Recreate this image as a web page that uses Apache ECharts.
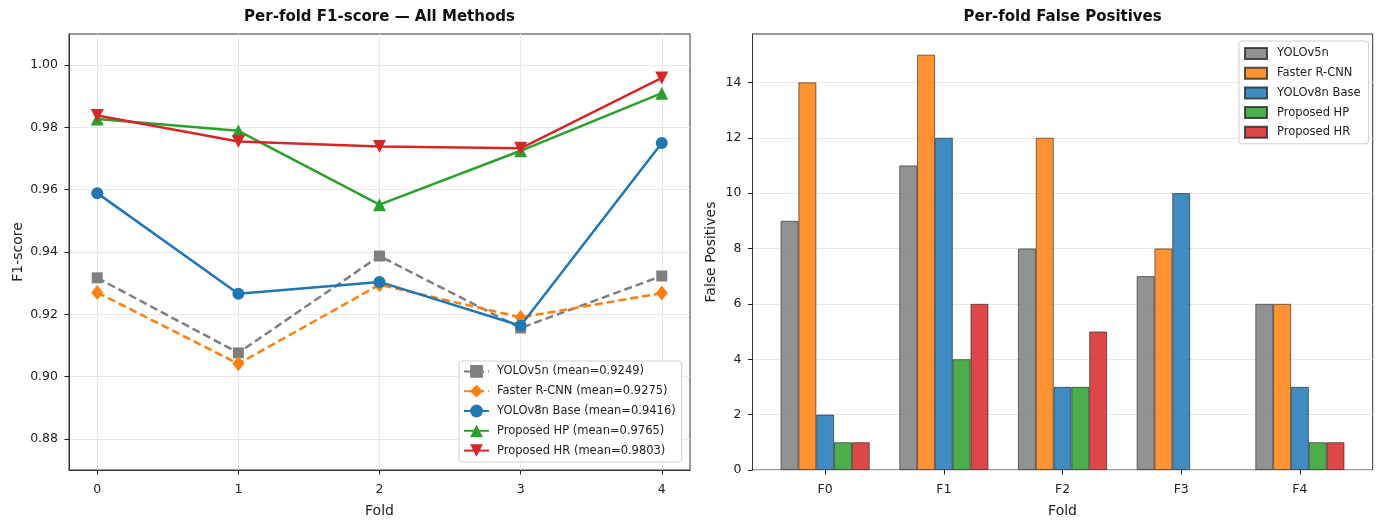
<!DOCTYPE html>
<html><head><meta charset="utf-8">
<script src="https://cdn.jsdelivr.net/npm/echarts@6/dist/echarts.min.js"></script>
<style>html,body{margin:0;padding:0;background:#fff}#c{width:1381px;height:522px}</style>
</head><body><div id="c"></div>
<script>
// ---- data ----
const folds = [0, 1, 2, 3, 4];
const foldLabels = ['F0', 'F1', 'F2', 'F3', 'F4'];
const methods = ['YOLOv5n', 'Faster R-CNN', 'YOLOv8n Base', 'Proposed HP', 'Proposed HR'];
const meanLabels = ['0.9249', '0.9275', '0.9416', '0.9765', '0.9803'];

const f1YOLOv5n    = [0.9317, 0.9076, 0.9387, 0.9156, 0.9323];
const f1FasterRCNN = [0.9270, 0.9041, 0.9295, 0.9190, 0.9268];
const f1YOLOv8n    = [0.9589, 0.9266, 0.9304, 0.9163, 0.9750];
const f1ProposedHP = [0.9827, 0.9789, 0.9552, 0.9725, 0.9910];
const f1ProposedHR = [0.9838, 0.9755, 0.9739, 0.9733, 0.9959];

const fpYOLOv5n    = [9, 11, 8, 7, 6];
const fpFasterRCNN = [14, 15, 12, 8, 6];
const fpYOLOv8n    = [2, 12, 3, 10, 3];
const fpProposedHP = [1, 4, 3, 0, 1];
const fpProposedHR = [1, 6, 5, 0, 1];

const f1Ticks = [0.88, 0.90, 0.92, 0.94, 0.96, 0.98, 1.00];
const fpTicks = [0, 2, 4, 6, 8, 10, 12, 14];

// ---- styling ----
const FONT = 'DejaVu Sans';
const lineColors = ['#7f7f7f', '#ff7f0e', '#1f77b4', '#2ca02c', '#d62728'];
const barColors = ['rgba(127,127,127,0.85)', 'rgba(255,127,14,0.85)', 'rgba(31,119,180,0.85)', 'rgba(44,160,44,0.85)', 'rgba(214,39,40,0.85)'];
const symbols = ['rect', 'diamond', 'circle', 'triangle', 'triangle'];
const symbolSizes = [11, [12, 15], 12, 13, 13];
const symbolRot = [0, 0, 0, 0, 180];
const dashed = [true, true, false, false, false];
const f1Sets = [f1YOLOv5n, f1FasterRCNN, f1YOLOv8n, f1ProposedHP, f1ProposedHR];
const fpSets = [fpYOLOv5n, fpFasterRCNN, fpYOLOv8n, fpProposedHP, fpProposedHR];

const tickColor = '#222';
const textColor = '#222';
const gridLine = { show: true, lineStyle: { color: '#e8e8e8', width: 1 } };
const axisLn = { show: true, onZero: false, lineStyle: { color: '#333', width: 1 } };

const lineSeries = methods.map((m, i) => ({
  type: 'line',
  name: m + ' (mean=' + meanLabels[i] + ')',
  xAxisIndex: 0, yAxisIndex: 0,
  data: folds.map((f, k) => [f, f1Sets[i][k]]),
  symbol: symbols[i],
  symbolSize: symbolSizes[i],
  symbolRotate: symbolRot[i],
  lineStyle: { color: lineColors[i], width: 2.5, type: dashed[i] ? [8, 4] : 'solid' },
  itemStyle: { color: lineColors[i] },
  emphasis: { disabled: true },
  z: 3 + i
}));

const barSeries = methods.map((m, i) => ({
  type: 'bar',
  name: m,
  xAxisIndex: 2, yAxisIndex: 2,
  data: fpSets[i].map(v => (v === 0 ? { value: v, itemStyle: { borderWidth: 0 } } : v)),
  barWidth: 17.8,
  barGap: '0%',
  itemStyle: { color: barColors[i], borderColor: 'rgba(40,40,40,0.8)', borderWidth: 0.8 },
  emphasis: { disabled: true }
}));

const gridCommon = { containLabel: false, outerBoundsMode: 'none' };

const option = {
  animation: false,
  backgroundColor: '#fff',
  textStyle: { fontFamily: FONT },
  title: [
    { text: 'Per-fold F1-score — All Methods', left: 379.5, top: 10, padding: 0, textAlign: 'center',
      textStyle: { fontFamily: FONT, fontSize: 15, fontWeight: 'bold', color: '#111' } },
    { text: 'Per-fold False Positives', left: 1062.6, top: 10, padding: 0, textAlign: 'center',
      textStyle: { fontFamily: FONT, fontSize: 15, fontWeight: 'bold', color: '#111' } }
  ],
  legend: [
    {
      data: lineSeries.map(s => s.name),
      orient: 'vertical', left: 459, top: 361,
      padding: [4, 6, 5, 4], itemGap: 7, itemWidth: 25, itemHeight: 16,
      backgroundColor: 'rgba(255,255,255,0.85)', borderColor: '#d0d0d0', borderWidth: 1, borderRadius: 3,
      textStyle: { fontFamily: FONT, fontSize: 11.5, color: textColor, padding: [0, 0, 0, 3] },
      selectedMode: false, z: 20
    },
    {
      data: methods,
      orient: 'vertical', left: 1239, top: 41,
      padding: [6, 8, 5, 5], itemGap: 6.7, itemWidth: 22, itemHeight: 11,
      icon: 'rect',
      backgroundColor: 'rgba(255,255,255,0.85)', borderColor: '#d0d0d0', borderWidth: 1, borderRadius: 3,
      textStyle: { fontFamily: FONT, fontSize: 11.5, color: textColor, padding: [0, 0, 0, 5] },
      selectedMode: false, z: 20
    }
  ],
  grid: [
    Object.assign({ left: 69, right: 691, top: 34, bottom: 52, show: true, borderColor: '#333', borderWidth: 1, backgroundColor: 'transparent' }, gridCommon),
    Object.assign({ left: 752.5, right: 8.3, top: 34, bottom: 52, show: true, borderColor: '#333', borderWidth: 1, backgroundColor: 'transparent' }, gridCommon),
    Object.assign({ left: 765.85, right: 21.75, top: 34, bottom: 52, show: false }, gridCommon)
  ],
  xAxis: [
    {
      gridIndex: 0, type: 'value', min: -0.2, max: 4.2,
      axisLine: axisLn,
      axisTick: { show: true, inside: false, length: 4.5, customValues: folds, lineStyle: { color: tickColor, width: 1 } },
      axisLabel: { customValues: folds, color: textColor, fontSize: 12.5, margin: 13, fontFamily: FONT, formatter: v => String(v) },
      splitLine: gridLine,
      name: 'Fold', nameLocation: 'middle', nameGap: 34,
      nameTextStyle: { fontFamily: FONT, fontSize: 14, color: textColor }
    },
    { gridIndex: 1, type: 'value', min: 0, max: 1, show: false },
    {
      gridIndex: 2, type: 'category', data: foldLabels,
      axisLine: { show: false, onZero: false },
      axisTick: { show: true, inside: false, alignWithLabel: true, length: 4.5, lineStyle: { color: tickColor, width: 1 } },
      axisLabel: { color: textColor, fontSize: 12.5, margin: 13, fontFamily: FONT },
      splitLine: { show: false },
      name: 'Fold', nameLocation: 'middle', nameGap: 34,
      nameTextStyle: { fontFamily: FONT, fontSize: 14, color: textColor }
    }
  ],
  yAxis: [
    {
      gridIndex: 0, type: 'value', min: 0.87, max: 1.01,
      axisLine: axisLn,
      axisTick: { show: true, inside: false, length: 4.5, customValues: f1Ticks, lineStyle: { color: tickColor, width: 1 } },
      axisLabel: { customValues: f1Ticks, color: textColor, fontSize: 12.5, margin: 11, fontFamily: FONT, formatter: v => v.toFixed(2) },
      splitLine: gridLine,
      name: 'F1-score', nameLocation: 'middle', nameGap: 44, nameRotate: 90,
      nameTextStyle: { fontFamily: FONT, fontSize: 14, color: textColor }
    },
    {
      gridIndex: 1, type: 'value', min: 0, max: 15.75,
      axisLine: axisLn,
      axisTick: { show: true, inside: false, length: 4.5, customValues: fpTicks, lineStyle: { color: tickColor, width: 1 } },
      axisLabel: { customValues: fpTicks, color: textColor, fontSize: 12.5, margin: 11, fontFamily: FONT, formatter: v => String(v) },
      splitLine: gridLine,
      name: 'False Positives', nameLocation: 'middle', nameGap: 34, nameRotate: 90,
      nameTextStyle: { fontFamily: FONT, fontSize: 14, color: textColor }
    },
    { gridIndex: 2, type: 'value', min: 0, max: 15.75, show: false }
  ],
  series: lineSeries.concat(barSeries)
};

const chart = echarts.init(document.getElementById('c'), null, { renderer: 'canvas' });
chart.setOption(option);
</script>
</body></html>
